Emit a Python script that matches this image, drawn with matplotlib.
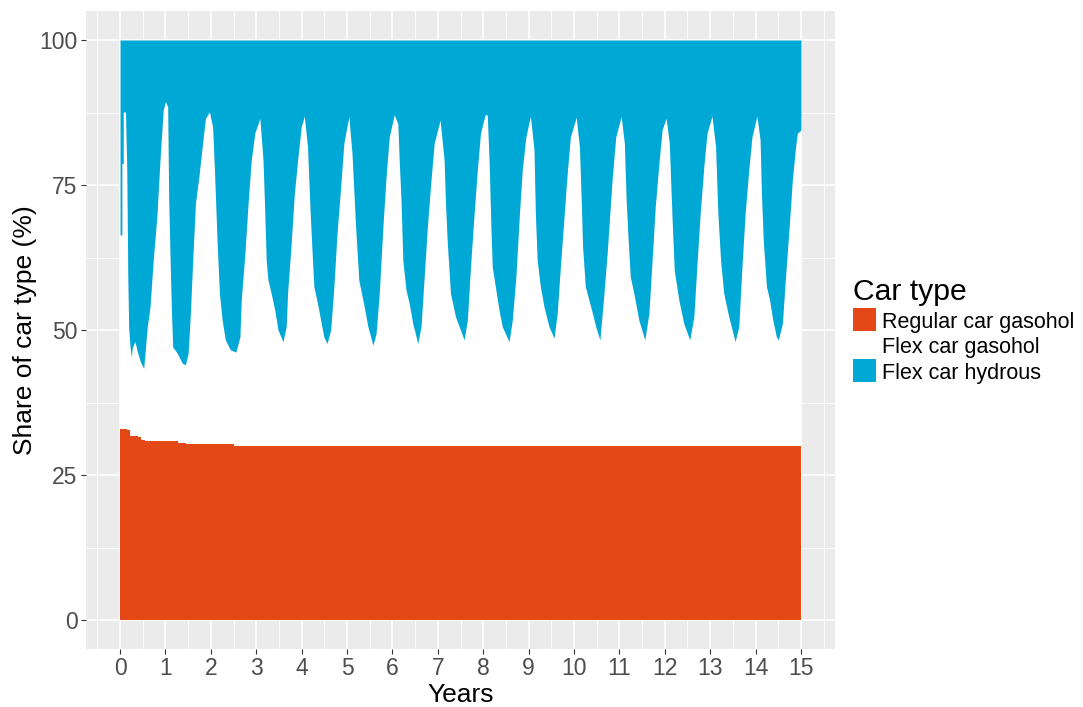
import matplotlib
matplotlib.use('Agg')
import matplotlib.pyplot as plt
from matplotlib.patches import Rectangle
import numpy as np

# ---- data ----
series_names = ["Regular car gasohol", "Flex car gasohol", "Flex car hydrous"]
series_colors = ["#E44817", "#FFFFFF", "#00A8D6"]

# Regular car gasohol share (%) as steps: start times and values
regular_t = [0.0, 0.15, 0.23, 0.40, 0.47, 0.55, 1.28, 1.46, 2.52, 15.0]
regular_share = [32.9, 32.8, 31.8, 31.5, 31.1, 30.8, 30.6, 30.3, 30.05, 30.05]

# Cumulative share of gasohol cars (regular + flex gasohol) = lower edge of hydrous band
gasohol_t = [0.0, 0.04, 0.04, 0.07, 0.07, 0.12, 0.15, 0.17, 0.19, 0.22, 0.25, 0.27, 0.33, 0.38, 0.45, 0.52, 0.55, 0.6, 0.66, 0.73, 0.81, 0.88, 0.95,
             1.0, 1.05, 1.07, 1.10, 1.13, 1.16, 1.26, 1.37, 1.44, 1.5, 1.55, 1.6, 1.66, 1.74, 1.81, 1.88, 1.97,
             2.04, 2.08, 2.14, 2.19, 2.25, 2.32, 2.43, 2.55, 2.64, 2.67, 2.75, 2.82, 2.89, 2.97,
             3.08, 3.15, 3.19, 3.22, 3.26, 3.33, 3.41, 3.48, 3.59, 3.66, 3.69, 3.77, 3.84, 3.92, 3.99,
             4.06, 4.13, 4.19, 4.24, 4.27, 4.35, 4.42, 4.49, 4.56, 4.64, 4.71, 4.78, 4.86, 4.93,
             5.04, 5.11, 5.19, 5.26, 5.38, 5.46, 5.57, 5.64, 5.71, 5.79, 5.86, 5.93,
             6.04, 6.12, 6.15, 6.19, 6.23, 6.30, 6.37, 6.45, 6.56, 6.63, 6.70, 6.77, 6.85, 6.92,
             7.05, 7.14, 7.17, 7.21, 7.28, 7.39, 7.58, 7.65, 7.72, 7.80, 7.87, 7.94,
             8.04, 8.09, 8.13, 8.17, 8.20, 8.28, 8.35, 8.42, 8.57, 8.64, 8.72, 8.79, 8.86, 8.94,
             9.04, 9.12, 9.15, 9.19, 9.26, 9.34, 9.45, 9.56, 9.63, 9.70, 9.78, 9.85, 9.92,
             10.05, 10.12, 10.16, 10.19, 10.25, 10.37, 10.48, 10.57, 10.66, 10.73, 10.84, 10.92,
             11.04, 11.11, 11.15, 11.19, 11.24, 11.32, 11.43, 11.56, 11.65, 11.72, 11.79, 11.87, 11.94,
             12.03, 12.10, 12.16, 12.21, 12.31, 12.42, 12.55, 12.64, 12.71, 12.78, 12.86, 12.93,
             13.04, 13.12, 13.17, 13.23, 13.30, 13.41, 13.55, 13.63, 13.70, 13.77, 13.85, 13.92,
             14.03, 14.10, 14.13, 14.17, 14.24, 14.31, 14.38, 14.46, 14.50, 14.59, 14.66, 14.74, 14.81, 14.89, 14.92, 15.0]
gasohol_cum = [66.4, 66.4, 78.7, 78.7, 87.6, 87.6, 77.0, 59.8, 50.6, 47.1, 45.4, 47.0, 48.0, 46.3, 44.5, 43.4, 46.0, 50.6, 54.0, 62.0, 69.5, 79.3, 87.9,
               89.4, 88.5, 73.6, 63.2, 54.0, 47.1, 46.0, 44.3, 44.0, 46.0, 53.0, 62.0, 71.8, 76.7, 81.6, 86.5, 87.6,
               85.0, 77.6, 65.0, 56.3, 51.7, 48.3, 46.6, 46.2, 48.8, 55.2, 63.2, 71.8, 79.3, 84.0,
               86.5, 79.3, 70.1, 62.0, 58.6, 56.3, 53.4, 50.0, 48.0, 50.6, 56.3, 65.0, 73.6, 79.9, 85.0,
               86.9, 81.6, 70.0, 62.0, 57.5, 54.6, 51.7, 48.8, 47.7, 50.0, 57.5, 66.7, 74.7, 82.2,
               86.8, 80.5, 67.8, 58.6, 54.0, 50.6, 47.4, 49.4, 56.3, 67.8, 76.4, 83.3,
               87.1, 85.6, 79.3, 72.4, 62.0, 56.9, 54.6, 51.1, 47.7, 50.6, 59.2, 67.8, 75.9, 82.2,
               86.2, 79.3, 71.8, 65.0, 56.3, 52.3, 48.3, 51.7, 60.9, 70.1, 77.6, 83.9,
               87.1, 87.1, 79.3, 67.8, 60.9, 56.9, 53.4, 50.6, 48.0, 51.7, 59.2, 69.0, 77.6, 83.3,
               86.9, 81.0, 70.0, 62.0, 57.5, 54.0, 50.6, 48.6, 52.9, 60.9, 69.5, 77.0, 83.3,
               86.7, 81.6, 72.4, 64.4, 57.5, 54.0, 50.6, 48.3, 56.3, 63.2, 76.0, 83.3,
               86.8, 82.2, 72.4, 66.1, 59.2, 56.3, 51.7, 48.3, 52.9, 62.0, 71.3, 78.7, 84.5,
               86.5, 82.2, 69.5, 60.3, 55.2, 51.1, 48.3, 52.3, 61.5, 70.1, 78.2, 83.9,
               86.9, 81.6, 70.1, 62.0, 56.3, 52.3, 48.0, 50.6, 60.9, 70.1, 77.6, 83.3,
               86.9, 82.8, 73.6, 65.5, 57.5, 55.2, 51.7, 48.8, 48.3, 51.1, 59.2, 67.8, 75.9, 82.2, 83.9, 84.5]

x_ticks = list(range(0, 16))
y_ticks = [0, 25, 50, 75, 100]
x_label = "Years"
y_label = "Share of car type (%)"
legend_title = "Car type"

# ---- figure ----
W, H = 1083, 707
fig = plt.figure(figsize=(W / 100, H / 100), dpi=100)
fig.patch.set_facecolor("white")
ax = fig.add_axes([86 / W, 1 - 649 / H, (835 - 86) / W, (649 - 11) / H])
ax.set_facecolor("#EBEBEB")

gt = np.array(gasohol_t)
gc = np.array(gasohol_cum)
rt = np.array(regular_t)
rs = np.array(regular_share)
idx = np.clip(np.searchsorted(rt, gt, side="right") - 1, 0, len(rs) - 1)
reg_at_gt = rs[idx]

# flex gasohol (white) between regular top and hydrous bottom
ax.fill_between(gt, reg_at_gt, gc, color=series_colors[1], lw=0, zorder=2)
# regular gasohol (orange) steps
ax.fill_between(rt, 0, rs, step="post", color=series_colors[0], lw=0, zorder=3)
# flex hydrous (blue)
ax.fill_between(gt, gc, 100, color=series_colors[2], lw=0, zorder=3)

ax.set_xlim(-0.75, 15.75)
ax.set_ylim(-5, 105)
ax.set_xticks(x_ticks)
ax.set_xticks(np.arange(-0.5, 16.0, 1.0), minor=True)
ax.set_yticks(y_ticks)
ax.set_yticks([12.5, 37.5, 62.5, 87.5], minor=True)
ax.grid(which="major", color="white", lw=1.2, zorder=0)
ax.grid(which="minor", color="white", lw=0.6, zorder=0)
ax.set_axisbelow(True)
for s in ax.spines.values():
    s.set_visible(False)
ax.tick_params(which="major", length=3.5, width=0.8, color="#333333",
               labelsize=16.5, labelcolor="#4D4D4D", pad=2.5)
ax.tick_params(which="minor", length=0)
for lab in ax.get_xticklabels() + ax.get_yticklabels():
    lab.set_family("Liberation Sans")

ax.set_xlabel(x_label, fontsize=19, family="Liberation Sans", labelpad=2)
ax.set_ylabel(y_label, fontsize=19, family="Liberation Sans", labelpad=2)

# ---- legend (manual, ggplot style) ----
def fx(px):
    return px / W

def fy(py):
    return 1 - py / H

fig.text(fx(853), fy(300), legend_title, fontsize=21.7, family="Liberation Sans",
         va="baseline", ha="left")
row_top = [308, 333.5, 359]
for name, col, top in zip(series_names, series_colors, row_top):
    fig.patches.append(Rectangle((fx(853), fy(top + 23)), 23 / W, 23 / H,
                                 transform=fig.transFigure, facecolor=col,
                                 edgecolor="none"))
    fig.text(fx(882), fy(top + 20), name, fontsize=15.5, family="Liberation Sans",
             va="baseline", ha="left")

fig.savefig("out.png", dpi=100)
